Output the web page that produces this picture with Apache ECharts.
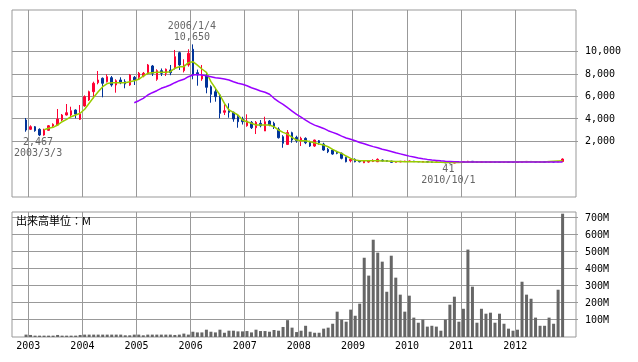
<!DOCTYPE html>
<html><head><meta charset="utf-8">
<script src="https://cdn.jsdelivr.net/npm/echarts@6.0.0/dist/echarts.min.js"></script>
<style>html,body{margin:0;padding:0;background:#fff}#c{width:638px;height:362px}</style>
</head><body><div id="c"></div>
<script>
// ---- data (monthly, first month = 2002/12) ----
const firstYear = 2002, firstMon = 12;
const yearLabels = ['2003','2004','2005','2006','2007','2008','2009','2010','2011','2012'];
const priceTicks = [2000, 4000, 6000, 8000, 10000];
const volumeTicks = [100, 200, 300, 400, 500, 600, 700];

const opens = [3902,3071,3304,3071,2563,2982,3366,3455,3902,4348,4348,4795,3964,
5152,5688,6429,7232,7625,7321,7679,7027,7473,7321,7027,7714,
7714,7830,8071,8723,7536,8304,8071,8366,8518,9911,8304,8813,
10214,8125,7563,7857,6875,6429,6134,4589,4795,4589,4196,3991,
3393,3696,3214,3607,2920,3813,3607,3098,2411,1720,2768,2357,
2054,2268,1964,1580,2054,1759,1286,1223,1071,929,571,268,
393,268,89,150,200,179,330,280,240,130,160,190,
200,240,200,150,190,160,130,150,120,90,60,110,
140,150,220,160,140,160,140,150,130,120,140,130,
120,140,170,210,190,150,160,150,180,160,200];
const closes = [3009,3304,2946,2563,3009,3393,3518,3991,4348,4554,4732,4437,4437,
5982,6429,7179,7473,7179,7768,7027,7411,7232,7116,7920,7473,
8071,8071,8813,8071,8304,8071,8429,8125,9554,8813,8813,9857,
7920,7920,7857,6821,6196,5982,4500,4732,4589,3991,3750,3750,
3813,3214,3696,3393,3750,3455,3304,2321,1821,2780,2116,2054,
2268,1875,1580,2116,1875,1223,1071,866,929,482,179,393,
179,179,268,268,300,393,250,220,125,190,220,240,
250,180,170,200,150,130,150,120,80,60,110,140,
170,220,150,140,160,140,150,130,120,140,120,120,
140,200,210,170,150,160,150,190,160,200,420];
const lows = [2857,3009,2857,2467,2500,2946,3250,3400,3813,4300,4143,4054,3902,
5089,5600,5839,7089,5929,7250,6875,6339,7100,6732,6950,7027,
7536,7714,7982,7830,7400,7830,7830,7900,8400,8366,8150,8661,
7536,6964,7400,6286,5446,5536,4054,4348,4107,3750,3214,3500,
3304,3100,2652,3250,2920,3350,3100,2250,1429,1670,1875,1875,
1580,1750,1500,1500,1700,1150,950,800,850,393,125,125,
125,120,60,100,150,150,200,180,100,110,140,170,
180,160,150,140,130,110,110,100,60,41,50,100,
120,140,120,120,130,120,130,110,100,110,110,110,
110,130,150,150,140,140,140,140,150,150,190];
const highs = [4080,3429,3366,3160,3125,3455,3607,4884,4437,5330,5089,4850,5241,
6100,6518,7321,8277,7700,7982,7830,7536,7714,7536,8009,7830,
8188,8188,8902,8813,8429,8500,8500,8813,10152,10000,9321,10214,
10650,8400,8813,8071,7000,6732,6200,5304,5393,4650,4348,4196,
4411,3813,3813,3900,4196,3900,3750,3250,2550,3009,2857,2500,
2411,2357,2054,2150,2116,1875,1400,1300,1150,1000,630,482,
480,300,300,330,400,480,380,320,260,220,250,270,
280,260,220,230,210,180,170,160,130,110,130,160,
200,260,240,180,180,170,170,160,140,150,150,140,
150,230,240,230,200,170,170,220,200,230,480];
const maShort = [null,null,null,null,3040,3160,3250,3455,3750,3964,4196,4348,4500,
4857,5393,5929,6429,6875,7150,7232,7232,7232,7232,7321,7411,
7536,7830,8071,8125,8161,8161,8161,8214,8518,8661,8661,9018,
9107,8800,8455,8161,7321,6732,6134,5393,4795,4589,4348,3902,
3750,3607,3455,3455,3455,3455,3304,3009,2804,2640,2357,2116,
2054,2054,1964,1875,1759,1670,1518,1286,1071,929,688,482,
330,268,268,268,268,268,250,240,220,200,190,180,
180,175,170,165,160,150,140,130,120,110,110,120,
130,150,160,160,160,160,160,160,160,160,160,160,
160,170,180,180,170,160,160,200,220,240,260];
const maLong = [null,null,null,null,null,null,null,null,null,null,null,null,null,
null,null,null,null,null,null,null,null,null,null,null,5446,
5625,5839,6134,6339,6518,6732,6875,7027,7232,7411,7536,7768,
7920,7960,7920,7857,7768,7679,7625,7563,7473,7321,7179,7089,
6964,6786,6643,6491,6375,6196,5839,5536,5304,5000,4700,4400,
4150,3900,3650,3450,3300,3150,2950,2800,2650,2470,2300,2180,
2050,1900,1780,1650,1530,1420,1300,1200,1100,980,880,780,
680,600,520,450,390,340,300,260,230,210,190,170,
155,150,150,150,150,150,150,150,150,150,150,150,
150,150,150,150,150,150,150,150,150,150,150];
const volumes = [14,12,8,8,8,8,8,12,8,8,8,8,12,
14,14,14,14,14,14,14,14,14,10,10,14,
14,10,14,14,14,14,14,14,12,14,20,14,
31,27,27,43,31,27,43,25,37,37,33,33,
35,27,43,35,35,31,41,37,59,99,55,29,
37,66,31,25,25,49,55,78,149,102,90,161,
125,196,466,361,572,496,443,266,478,349,249,149,
243,114,84,102,61,66,61,37,102,190,237,90,
166,514,296,84,166,137,143,84,137,78,49,37,
43,325,249,225,114,66,66,114,78,278,725];
const extremeDates = ['2003/3/3', '2006/1/4', '2010/10/1'];
const extremeIdx = [3, 37, 94];   // months of 2,467 low, 10,650 high, 41 low

// ---- chart ----
const baseYear = Number(yearLabels[0]);
const monthX = i => (firstYear - baseYear) * 12 + (firstMon - 1) + i + 0.5;
const yearTicks = yearLabels.map(y => (Number(y) - baseYear) * 12);
const fmt = v => v.toLocaleString('en-US');
const MONO = 'DejaVu Sans Mono';
const GRID = '#999';

const candleData = opens.map((o, i) => [monthX(i), o, closes[i], lows[i], highs[i]]);
const lineData = arr => arr.map((v, i) => v == null ? null : [monthX(i), v]).filter(d => d);
const volData = volumes.map((v, i) => [monthX(i), v]);

const xMin = -3.615, xMax = 121.47;
const pMin = -2966, pMax = 13717, vMin = 0, vMax = 735;
function xAx(gi, showLabel) {
  return {
    type: 'value', gridIndex: gi, min: xMin, max: xMax,
    axisLine: {show: false}, axisTick: {show: false}, splitLine: {show: false},
    axisLabel: {show: showLabel, customValues: yearTicks, margin: 4,
      formatter: v => yearLabels[Math.round(v / 12)],
      fontFamily: MONO, fontSize: 10, color: '#000'}
  };
}
function yAx(gi, min, max, ticks, f) {
  return {
    type: 'value', gridIndex: gi, position: 'right', min, max,
    axisLine: {show: false}, axisTick: {show: false}, splitLine: {show: false},
    axisLabel: {customValues: ticks, formatter: f, margin: 9, fontFamily: MONO, fontSize: 10, color: '#000'}
  };
}

const chart = echarts.init(document.getElementById('c'));
chart.setOption({
  animation: false,
  title: {text: '出来高単位：M', left: 16, top: 215, padding: 0,
    textStyle: {fontSize: 11, fontWeight: 'normal', color: '#000', fontFamily: 'Noto Sans CJK JP'}},
  grid: [
    {left: 12, top: 10, width: 564, height: 187, show: true, borderColor: GRID, borderWidth: 1},
    {left: 12, top: 212, width: 564, height: 125, show: true, borderColor: GRID, borderWidth: 1}
  ],
  xAxis: [xAx(0, false), xAx(1, true)],
  yAxis: [
    yAx(0, pMin, pMax, priceTicks, v => fmt(v)),
    yAx(1, vMin, vMax, volumeTicks, v => v + 'M')
  ],
  series: [
    {type: 'candlestick', xAxisIndex: 0, yAxisIndex: 0, data: candleData, z: 2,
      encode: {x: 0, y: [1, 2, 3, 4]},
      barWidth: 2,
      itemStyle: {color: '#ff0033', color0: '#003399', borderColor: '#ff0033', borderColor0: '#003399', borderWidth: 1},
      markPoint: {
        symbol: 'rect', symbolSize: 1, silent: true,
        itemStyle: {color: 'rgba(0,0,0,0)'},
        label: {show: true, color: '#666', fontFamily: MONO, fontSize: 10, lineHeight: 11,
          align: 'center', verticalAlign: 'middle'},
        data: [
          {coord: [monthX(extremeIdx[0]), lows[extremeIdx[0]]],
            label: {formatter: fmt(lows[extremeIdx[0]]) + '\n' + extremeDates[0], offset: [-1.5, 12]}},
          {coord: [monthX(extremeIdx[1]), highs[extremeIdx[1]]],
            label: {formatter: extremeDates[1] + '\n' + fmt(highs[extremeIdx[1]]), offset: [-1, -12]}},
          {coord: [monthX(extremeIdx[2]), lows[extremeIdx[2]]],
            label: {formatter: fmt(lows[extremeIdx[2]]) + '\n' + extremeDates[2], offset: [-1.5, 11.5]}}
        ]
      }},
    {type: 'line', xAxisIndex: 0, yAxisIndex: 0, data: lineData(maShort), z: 3,
      showSymbol: false, symbol: 'none', lineStyle: {color: '#99cc00', width: 1.5}},
    {type: 'line', xAxisIndex: 0, yAxisIndex: 0, data: lineData(maLong), z: 4,
      showSymbol: false, symbol: 'none', lineStyle: {color: '#9900ff', width: 1.5}},
    {type: 'bar', xAxisIndex: 1, yAxisIndex: 1, data: volData, barWidth: 3, z: 2,
      itemStyle: {color: '#666666'}}
  ]
});

// grid lines placed through the axes' own value->pixel conversion
const crisp = v => Math.floor(v) + 0.5;
function gridElements(gi, yMin, yMax, yTicks) {
  const px = (x, y) => chart.convertToPixel({xAxisIndex: gi, yAxisIndex: gi}, [x, y]);
  const els = [];
  yearTicks.forEach(x => {
    const a = px(x, yMax), b = px(x, yMin);
    const cx = crisp(a[0]);
    els.push({type: 'line', silent: true, z: 0,
      shape: {x1: cx, y1: a[1], x2: cx, y2: b[1]},
      style: {stroke: GRID, lineWidth: 1}});
  });
  yTicks.forEach(y => {
    const a = px(xMin, y), b = px(xMax, y);
    const cy = crisp(a[1]);
    els.push({type: 'line', silent: true, z: 0,
      shape: {x1: a[0], y1: cy, x2: b[0] + 2, y2: cy},
      style: {stroke: GRID, lineWidth: 1}});
  });
  return els;
}
chart.setOption({
  graphic: {elements: gridElements(0, pMin, pMax, priceTicks).concat(gridElements(1, vMin, vMax, volumeTicks))}
});
</script></body></html>
